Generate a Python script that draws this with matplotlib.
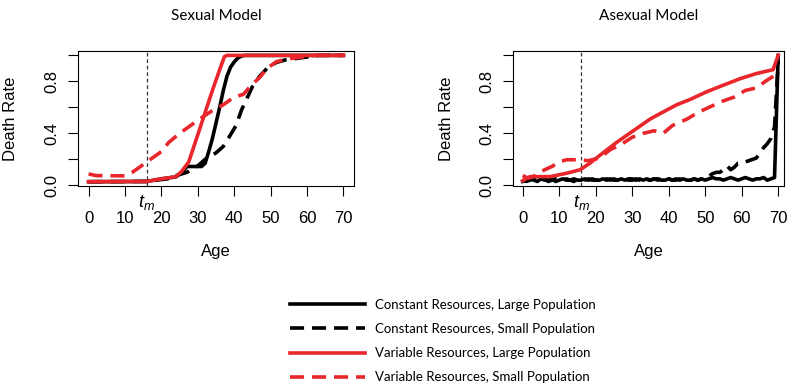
#!/usr/bin/env python3
"""
Death rate vs. age for the sexual and asexual models, four resource/population
scenarios each. Writes out.png.
"""

import matplotlib
matplotlib.use("Agg")
import matplotlib.pyplot as plt
import matplotlib.transforms as mtransforms

# ── Style ──────────────────────────────────────────────────────────────────── #
plt.rcParams.update({
    "font.family":     ["Liberation Sans", "DejaVu Sans"],
    "font.size":       12,
    "axes.linewidth":  0.8,
    "xtick.major.width": 0.8,
    "ytick.major.width": 0.8,
    "mathtext.fontset": "custom",
    "mathtext.it":     "Liberation Sans:italic",
    "mathtext.rm":     "Liberation Sans",
})

RED   = "#e8262b"
BLACK = "#000000"
T_M   = 16   # age of maturity

# ── Data ───────────────────────────────────────────────────────────────────── #
# Sexual model
sex_cl_age  = [0, 16, 20, 24, 26, 27, 31, 32, 33, 34, 35, 36, 37, 38, 39, 40, 41, 42, 43, 70]
sex_cl_rate = [0.028, 0.03, 0.05, 0.065, 0.11, 0.145, 0.145, 0.17, 0.26, 0.36, 0.48, 0.60,
               0.73, 0.84, 0.91, 0.95, 0.98, 0.995, 1.0, 1.0]

sex_cs_age  = [0, 16, 20, 22, 24, 27, 30, 32, 35, 37, 39, 40.5, 42, 43.5, 45, 47, 49, 51.5,
               54, 58, 62, 63, 70]
sex_cs_rate = [0.028, 0.03, 0.045, 0.05, 0.075, 0.10, 0.15, 0.20, 0.25, 0.30, 0.39, 0.46,
               0.58, 0.67, 0.76, 0.84, 0.90, 0.945, 0.965, 0.98, 0.995, 1.0, 1.0]

sex_vl_age  = [0, 16, 20, 24, 25.5, 27.5, 30, 32, 34, 36, 37.3, 38, 70]
sex_vl_rate = [0.028, 0.03, 0.05, 0.067, 0.105, 0.18, 0.39, 0.56, 0.73, 0.89, 0.99, 1.0, 1.0]

sex_vs_age  = [0, 2, 10, 12, 15, 18, 20, 22, 25, 28, 31, 34, 37, 40, 42.5, 45, 47, 49, 51.5,
               54, 58, 62, 70]
sex_vs_rate = [0.088, 0.075, 0.073, 0.10, 0.16, 0.22, 0.26, 0.33, 0.40, 0.46, 0.52, 0.575,
               0.62, 0.68, 0.70, 0.78, 0.83, 0.90, 0.95, 0.97, 0.985, 1.0, 1.0]

# Asexual model
ages = list(range(71))
asex_cl_rate = [0.03, 0.04, 0.05, 0.04, 0.03, 0.05, 0.04, 0.04, 0.05, 0.03, 0.04, 0.05, 0.04,
                0.04, 0.05, 0.04, 0.04, 0.05, 0.04, 0.05, 0.04, 0.04, 0.05, 0.04, 0.05, 0.04,
                0.04, 0.05, 0.04, 0.05, 0.05, 0.04, 0.05, 0.04, 0.05, 0.04, 0.05, 0.05, 0.04,
                0.04, 0.05, 0.04, 0.05, 0.04, 0.05, 0.04, 0.04, 0.05, 0.04, 0.05, 0.04, 0.05,
                0.06, 0.05, 0.05, 0.04, 0.05, 0.06, 0.05, 0.04, 0.05, 0.06, 0.05, 0.04, 0.05,
                0.05, 0.06, 0.04, 0.05, 0.06, 1.0]
asex_cs_rate = [0.04, 0.03, 0.04, 0.05, 0.04, 0.04, 0.05, 0.03, 0.04, 0.05, 0.04, 0.04, 0.05,
                0.04, 0.03, 0.05, 0.04, 0.04, 0.05, 0.04, 0.04, 0.05, 0.04, 0.05, 0.04, 0.05,
                0.04, 0.04, 0.05, 0.04, 0.04, 0.05, 0.04, 0.05, 0.04, 0.04, 0.05, 0.04, 0.05,
                0.04, 0.05, 0.04, 0.04, 0.05, 0.04, 0.05, 0.04, 0.05, 0.04, 0.05, 0.05, 0.07,
                0.09, 0.10, 0.10, 0.12, 0.15, 0.12, 0.14, 0.17, 0.17, 0.18, 0.19, 0.20, 0.21,
                0.25, 0.29, 0.32, 0.36, 0.45, 0.96]

asex_vl_age  = [0, 2, 7.5, 12, 15.7, 18.4, 22, 25.7, 30.3, 34.9, 38.5, 42.2, 45.8, 50.4,
                54.9, 59.5, 64, 68.6, 70]
asex_vl_rate = [0.036, 0.067, 0.067, 0.093, 0.12, 0.17, 0.25, 0.33, 0.42, 0.51, 0.565, 0.62,
                0.66, 0.72, 0.77, 0.82, 0.86, 0.89, 1.0]

asex_vs_age  = [0, 1.5, 3, 6, 8, 10, 12, 15, 18, 21, 24, 27, 30, 33, 36, 38.5, 41, 45, 48,
                51, 55, 58, 61, 64, 67, 69, 70]
asex_vs_rate = [0.075, 0.055, 0.07, 0.12, 0.145, 0.18, 0.197, 0.197, 0.19, 0.21, 0.275, 0.315,
                0.37, 0.40, 0.42, 0.40, 0.46, 0.51, 0.56, 0.60, 0.65, 0.68, 0.73, 0.75, 0.81,
                0.845, 0.87]

LEGEND_LABELS = [
    "Constant Resources, Large Population",
    "Constant Resources, Small Population",
    "Variable Resources, Large Population",
    "Variable Resources, Small Population",
]

DASH = (3.9, 2.2)
LW   = 2.6

# ── Figure ─────────────────────────────────────────────────────────────────── #
fig = plt.figure(figsize=(7.89, 3.85), dpi=100)
ax_sex  = fig.add_axes([0.0989, 0.5169, 0.3498, 0.3514])
ax_asex = fig.add_axes([0.6498, 0.5169, 0.3439, 0.3514])

panels = [
    (ax_sex, "Sexual Model", (-2.9, 72.9),
     [(sex_cl_age, sex_cl_rate), (sex_cs_age, sex_cs_rate),
      (sex_vl_age, sex_vl_rate), (sex_vs_age, sex_vs_rate)]),
    (ax_asex, "Asexual Model", (-2.75, 71.6),
     [(ages, asex_cl_rate), (ages, asex_cs_rate),
      (asex_vl_age, asex_vl_rate), (asex_vs_age, asex_vs_rate)]),
]

styles = [(BLACK, "-"), (BLACK, "--"), (RED, "-"), (RED, "--")]

for ax, title, xlim, series in panels:
    handles = []
    for (x, y), (col, ls), lab in zip(series, styles, LEGEND_LABELS):
        kw = dict(color=col, lw=LW, label=lab)
        if ls == "--":
            kw["dashes"] = DASH
        else:
            kw["solid_joinstyle"] = "round"
        h, = ax.plot(x, y, **kw)
        handles.append(h)

    ax.axvline(T_M, color="#333333", lw=0.9, dashes=(3, 2.2), zorder=0)

    ax.set_xlim(*xlim)
    ax.set_ylim(-0.005, 1.036)
    ax.set_xticks(range(0, 71, 10))
    ax.set_yticks([0, 0.2, 0.4, 0.6, 0.8, 1.0])
    ax.set_yticklabels(["0.0", "", "0.4", "", "0.8", ""], rotation=90, va="center")
    ax.tick_params(axis="x", direction="out", length=7, pad=11, labelsize=12)
    ax.tick_params(axis="y", direction="out", length=7, pad=6.5, labelsize=12)

    ax.set_title(title, fontsize=11, family=["Lato", "DejaVu Sans"], pad=22)
    ax.set_xlabel("Age", fontsize=12)
    ax.set_ylabel("Death Rate", fontsize=12)
    ax.xaxis.set_label_coords(0.5, -0.43)
    ax.yaxis.set_label_coords(-0.218, 0.5)

    trans = mtransforms.blended_transform_factory(ax.transData, ax.transAxes)
    ax.text(T_M, -0.05, r"$t_m$", transform=trans, ha="center", va="top", fontsize=13)

fig.legend(handles=handles, labels=LEGEND_LABELS, loc="center",
           bbox_to_anchor=(0.561, 0.114), frameon=False,
           prop={"family": ["Lato", "DejaVu Sans"], "size": 9.5},
           handlelength=5.7, handletextpad=0.76, labelspacing=0.92)

fig.savefig("out.png", dpi=100)
